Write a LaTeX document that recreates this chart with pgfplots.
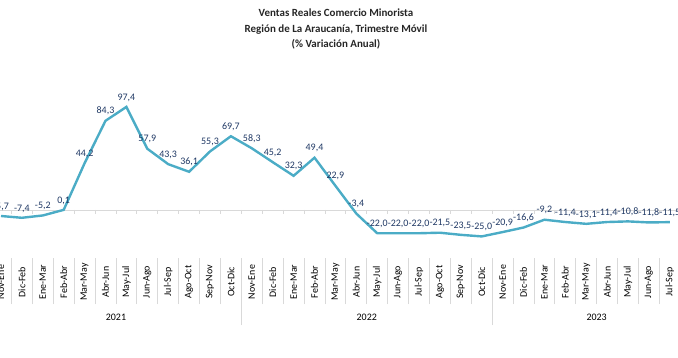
\documentclass[border=0pt]{standalone}
\usepackage{pgfplots}
\pgfplotsset{compat=1.18}
\usepackage{fontspec}
\setmainfont{Carlito}
\definecolor{linec}{RGB}{75,172,198}
\definecolor{labc}{RGB}{31,56,100}
\definecolor{sepc}{RGB}{217,217,217}
\begin{document}
\begin{tikzpicture}
\useasboundingbox (0,0) rectangle (678bp,358bp);
\clip (0,0) rectangle (678bp,358bp);
\begin{axis}[
  x=20.9bp, y=1.058bp,
  xmin=-0.5, xmax=33.5, ymin=-45.4, ymax=198.5,
  anchor=south west, at={(-9.45bp,100bp)},
  clip=false,
  axis y line=none,
  axis x line*=bottom,
  x axis line style={draw=none},
  xtick={0,...,32},
  xticklabels={Nov-Ene,Dic-Feb,Ene-Mar,Feb-Abr,Mar-May,Abr-Jun,May-Jul,Jun-Ago,Jul-Sep,Ago-Oct,Sep-Nov,Oct-Dic,
               Nov-Ene,Dic-Feb,Ene-Mar,Feb-Abr,Mar-May,Abr-Jun,May-Jul,Jun-Ago,Jul-Sep,Ago-Oct,Sep-Nov,Oct-Dic,
               Nov-Ene,Dic-Feb,Ene-Mar,Feb-Abr,Mar-May,Abr-Jun,May-Jul,Jun-Ago,Jul-Sep},
  major tick length=0pt,
  minor xtick={-0.5,0.5,...,33.5},
  minor tick length=46bp,
  tick align=outside,
  xtick pos=bottom,
  tick style={draw=sepc, line width=0.8bp},
  extra x ticks={-0.5,11.5,23.5},
  extra x tick labels={},
  extra x tick style={major tick length=67bp, tick align=outside, tick style={draw=sepc, line width=0.8bp}},
  xticklabel style={yshift=-24bp, rotate=90, anchor=center, font=\fontsize{10}{12}\selectfont, text=black},
  /pgf/number format/.cd, fixed, fixed zerofill, precision=1, use comma, assume math mode=true,
]
\draw[sepc, line width=0.8bp] (axis cs:-0.5,0) -- (axis cs:33.5,0);
\pgfplotsinvokeforeach{-0.5,0.5,...,33.5}{\draw[sepc, line width=0.8bp] (axis cs:#1,0) -- ([yshift=-4.5bp]axis cs:#1,0);}
\addplot[linec, line width=2.4bp, mark=none,
  nodes near coords,
  every node near coord/.append style={font=\fontsize{10}{12}\selectfont, text=labc, anchor=south, yshift=1bp}]
  table[x=x, y=y] {
x y
0 -5.7
1 -7.4
2 -5.2
3 0.1
4 44.2
5 84.3
6 97.4
7 57.9
8 43.3
9 36.1
10 55.3
11 69.7
12 58.3
13 45.2
14 32.3
15 49.4
16 22.9
17 -3.4
18 -22.0
19 -22.0
20 -22.0
21 -21.5
22 -23.5
23 -25.0
24 -20.9
25 -16.6
26 -9.2
27 -11.4
28 -13.1
29 -11.4
30 -10.8
31 -11.8
32 -11.5
};
\node[font=\fontsize{10}{12}\selectfont] at (axis cs:5.5,-101) {2021};
\node[font=\fontsize{10}{12}\selectfont] at (axis cs:17.5,-101) {2022};
\node[font=\fontsize{10}{12}\selectfont] at (axis cs:28.5,-101) {2023};
\end{axis}
\node[align=center, font=\bfseries\fontsize{11}{15.5}\selectfont, text=black!85] at (336bp,329bp) {Ventas Reales Comercio Minorista\\Región de La Araucanía, Trimestre Móvil\\(\% Variación Anual)};
\end{tikzpicture}
\end{document}
